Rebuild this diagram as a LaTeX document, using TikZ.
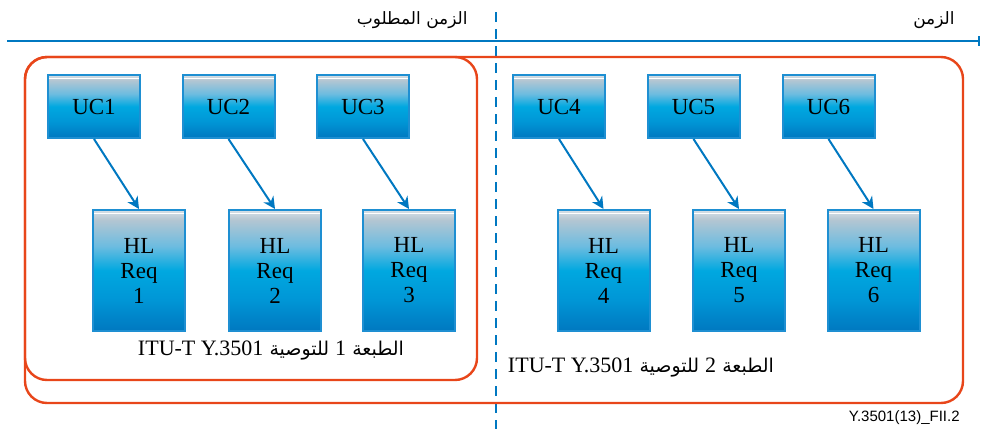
\documentclass[tikz,border=0pt]{standalone}
\usepackage{fontspec}
\usepackage{xcolor}
\usepackage{tikz}
\usetikzlibrary{arrows.meta}
\setmainfont{Liberation Serif}
\setsansfont{Liberation Sans}
\newfontfamily\arabicfont[Script=Arabic]{DejaVu Sans}
\TeXXeTstate=1
\definecolor{lineblue}{HTML}{0078C1}
\definecolor{edorange}{HTML}{E8461A}
\definecolor{boxedge}{HTML}{1E8FD2}
\definecolor{shbot}{HTML}{0078C0}
\definecolor{shdeep}{HTML}{0096D6}
\definecolor{shmid}{HTML}{00A8E0}
\definecolor{shlight}{HTML}{6CBCE0}
\definecolor{shgray}{HTML}{B4C6D2}
\definecolor{shtop}{HTML}{D8E0E6}
\pgfdeclareverticalshading{reqshade}{100bp}{color(0bp)=(shbot); color(25bp)=(shbot); color(38bp)=(shdeep); color(50bp)=(shmid); color(60bp)=(shlight); color(71bp)=(shgray); color(75bp)=(shtop); color(100bp)=(shtop)}
\tikzset{
  ucbox/.style={shading=reqshade, draw=boxedge, line width=1pt,
    minimum width=46pt, minimum height=31.5pt, inner sep=0pt,
    font=\fontsize{11.5}{12.5}\selectfont,
    path picture={\draw[white, line width=0.7pt]
      ([yshift=-1.6pt]path picture bounding box.north west) --
      ([yshift=-1.6pt]path picture bounding box.north east);}},
  hlbox/.style={ucbox, minimum height=60.5pt, align=center},
  reqarrow/.style={draw=lineblue, line width=1pt, -{Stealth[length=6pt,width=6pt]}},
  edition/.style={draw=edorange, line width=1.2pt, rounded corners=11pt},
  timeline/.style={draw=lineblue, line width=1pt},
  arlabel/.style={font=\fontsize{9.5}{12}\selectfont, inner sep=0pt}
}
\newcommand{\latinpart}[1]{{\rmfamily\fontsize{11}{12}\selectfont #1}}

\begin{document}
\begin{tikzpicture}[x=0.5pt, y=-0.5pt]
  \useasboundingbox (0,0) rectangle (981,429);
  % time axis and divider
  \coordinate (t0) at (7,41);
  \coordinate (t1) at (980,41);
  \draw[timeline, -{Bar[width=5pt]}] (t0) -- (t1);
  \coordinate (d0) at (496,12);
  \coordinate (d1) at (496,429);
  \draw[timeline, dash pattern=on 5pt off 3.5pt] (d0) -- (d1);
  \node[arlabel, font=\fontsize{8.5}{10}\selectfont, anchor=east] (reqtime) at (468,20) {\arabicfont\beginR الزمن المطلوب\endR};
  \node[arlabel, font=\fontsize{8.5}{10}\selectfont, anchor=east] (time) at (955,20) {\arabicfont\beginR الزمن\endR};
  % editions
  \draw[edition] (25,57) rectangle (963,403);
  \draw[edition] (25,57) rectangle (477,380);
  % use cases
  \node[ucbox] (uc1) at (94,106.5) {UC1};
  \node[ucbox] (uc2) at (228.5,106.5) {UC2};
  \node[ucbox] (uc3) at (363,106.5) {UC3};
  \node[ucbox] (uc4) at (559,106.5) {UC4};
  \node[ucbox] (uc5) at (693.5,106.5) {UC5};
  \node[ucbox] (uc6) at (828.5,106.5) {UC6};
  % high level requirements
  \node[hlbox] (hl1) at (139,270.5) {HL\\Req\\1};
  \node[hlbox] (hl2) at (275,270.5) {HL\\Req\\2};
  \node[hlbox] (hl3) at (409,270.5) {HL\\Req\\3};
  \node[hlbox] (hl4) at (603.5,270.5) {HL\\Req\\4};
  \node[hlbox] (hl5) at (739,270.5) {HL\\Req\\5};
  \node[hlbox] (hl6) at (873.5,270.5) {HL\\Req\\6};
  \draw[reqarrow] (uc1.south) -- (hl1.north);
  \draw[reqarrow] (uc2.south) -- (hl2.north);
  \draw[reqarrow] (uc3.south) -- (hl3.north);
  \draw[reqarrow] (uc4.south) -- (hl4.north);
  \draw[reqarrow] (uc5.south) -- (hl5.north);
  \draw[reqarrow] (uc6.south) -- (hl6.north);
  % edition labels
  \node[arlabel] (ed1) at (271,350) {\arabicfont\beginR الطبعة \beginL\latinpart{1}\endL{} للتوصية \beginL\latinpart{ITU-T Y.3501}\endL\endR};
  \node[arlabel] (ed2) at (641,367) {\arabicfont\beginR الطبعة \beginL\latinpart{2}\endL{} للتوصية \beginL\latinpart{ITU-T Y.3501}\endL\endR};
  \node[font=\sffamily\fontsize{7.5}{8}\selectfont, anchor=east, inner sep=0pt] (figid) at (960,418) {Y.3501(13)\_FII.2};
\end{tikzpicture}
\end{document}
